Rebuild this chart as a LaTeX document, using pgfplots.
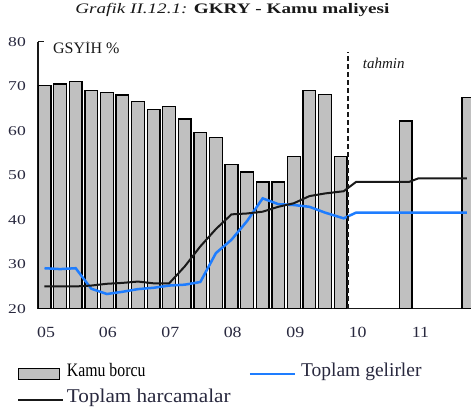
\documentclass[border=0pt]{standalone}
\usepackage{fontspec}
\setmainfont{Liberation Serif}
\newfontfamily\tickfont[FakeStretch=1.3]{Liberation Serif}
\newfontfamily\xtickfont[FakeStretch=1.15]{Liberation Serif}
\newfontfamily\titlefont[FakeStretch=1.32]{Liberation Serif}
\usepackage{graphicx}
\usepackage{pgfplots}
\pgfplotsset{compat=1.18}
\definecolor{barfill}{RGB}{192,192,192}
\definecolor{lineblue}{RGB}{30,125,255}
\definecolor{txt}{RGB}{40,40,62}
\begin{document}
\begin{tikzpicture}
\begin{axis}[
  scale only axis, width=433bp, height=267bp,
  xmin=-0.417, xmax=27.37, ymin=20, ymax=80,
  axis lines=left,
  axis line style={-, line width=1.3bp, black!90},
  ytick={20,30,...,80},
  tick align=inside, major tick length=6bp,
  ytick style={line width=1.3bp, black!90},
  xtick={0.1,4.06,8.08,12.08,16.1,20.1,24.13},
  xticklabels={05,06,07,08,09,10,11},
  xtick style={draw=none},
  /pgf/number format/assume math mode=true,
  yticklabel style={font=\tickfont\fontsize{13.5bp}{15bp}\selectfont, inner sep=0pt, anchor=east, xshift=-12bp, text=txt},
  xticklabel style={font=\xtickfont\fontsize{15.5bp}{17bp}\selectfont, inner sep=0pt, anchor=north, yshift=-18bp, text=txt},
  title={\itshape Grafik II.12.1: \upshape\bfseries GKRY - Kamu maliyesi},
  title style={font=\titlefont\fontsize{14.5bp}{16bp}\selectfont, at={(axis description cs:0.449,1)}, anchor=base, yshift=22.4bp, inner sep=0pt, text=black!90},
  legend columns=2,
  legend style={draw=none, fill=none, inner sep=0pt, outer sep=0pt,
    at={(axis description cs:0,0)}, anchor=north west, xshift=-20.7bp, yshift=-54.5bp,
    row sep=8.7bp, cells={anchor=base west}, nodes={inner sep=0pt},
    /tikz/column 1/.style={column sep=2.7bp},
    /tikz/column 2/.style={column sep=18bp},
    /tikz/column 3/.style={column sep=5bp}},
]
\coordinate (O) at (rel axis cs:0,0);
\addplot[ybar, bar width=0.82, fill=barfill, draw=black, line width=1.3bp,
  legend image code/.code={\draw[fill=barfill,draw=black,line width=1.3bp] (0bp,-2.8bp) rectangle (41bp,8.2bp);}]
  coordinates {(0,70.1) (1,70.5) (2,71.1) (3,69.0) (4,68.6) (5,68.0) (6,66.5) (7,64.7) (8,65.5) (9,62.6) (10,59.6) (11,58.5) (12,52.4) (13,50.7) (14,48.5) (15,48.5) (16,54.2) (17,69.0) (18,68.2) (19,54.2) (23.17,62.2) (27.2,67.5)};
\addlegendentry{\fontsize{19bp}{21bp}\selectfont\scalebox{0.83}[1]{Kamu borcu}}
\addplot[lineblue, line width=2.5bp,
  legend image code/.code={\draw[lineblue,line width=2.5bp] (0bp,2.7bp) -- (45bp,2.7bp);}]
  coordinates {(0,29.1) (1,28.9) (2,29.1) (3,24.5) (4,23.3) (5,23.8) (6,24.4) (7,24.7) (8,25.2) (9,25.4) (10,26.0) (11,32.5) (12,35.5) (13,39.7) (14,44.8) (15,43.5) (16,43.3) (17,42.9) (18,41.6) (19.2,40.3) (20,41.6) (27.1,41.6)};
\addlegendentry{\fontsize{19.5bp}{22bp}\selectfont\color{txt}Toplam gelirler}
\addplot[black!90, line width=2bp,
  legend image code/.code={\draw[black!90,line width=2bp] (0bp,2.7bp) -- (45bp,2.7bp);}]
  coordinates {(0,25) (1,25) (2,25) (3,25.2) (4,25.6) (5,25.8) (6,26.1) (7,25.7) (8,25.7) (9,29.5) (10,34) (11,37.9) (12,41.2) (13,41.4) (14,41.8) (15,42.9) (16,43.7) (17,45.3) (18,45.9) (19.2,46.4) (20,48.5) (23.4,48.5) (24,49.3) (27.1,49.3)};
\addlegendentry{\fontsize{19.5bp}{22bp}\selectfont\color{txt}\scalebox{1.085}[1]{Toplam harcamalar}}
\draw[black!90, line width=1.5bp, dash pattern=on 5bp off 3bp] (axis cs:19.49,20) -- (axis cs:19.49,77.75);
\node[anchor=base west, inner sep=0pt, font=\fontsize{16bp}{18bp}\selectfont, text=black!90] at (axis cs:0.545,77.24) {GSYİH \%};
\node[anchor=base west, inner sep=0pt, font=\fontsize{15bp}{17bp}\selectfont\itshape, text=black!90] at (axis cs:20.42,74.0) {tahmin};
\end{axis}
\pgfresetboundingbox
\path[use as bounding box] (O) ++(-38bp,-103.3bp) rectangle ++(471bp,412bp);
\end{tikzpicture}
\end{document}
